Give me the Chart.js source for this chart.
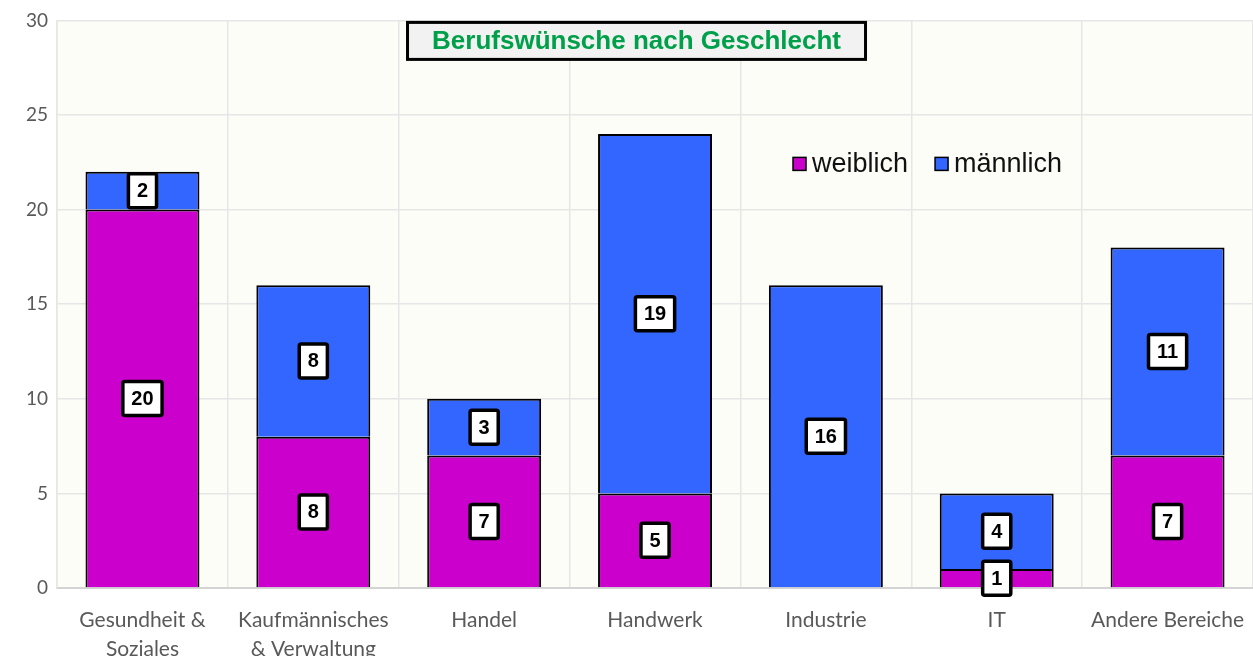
<!DOCTYPE html>
<html>
<head>
<meta charset="utf-8">
<script src="https://cdn.jsdelivr.net/npm/chart.js@4.4.0/dist/chart.umd.min.js"></script>
<style>
  html, body { margin:0; padding:0; background:#fff; overflow:hidden; }
  #wrap { width:1253px; height:682px; position:relative; }
</style>
</head>
<body>
<div id="wrap"><canvas id="chart"></canvas></div>
<script>
// Data
const categories = [["Gesundheit &","Soziales"],["Kaufmännisches","& Verwaltung"],"Handel","Handwerk","Industrie","IT","Andere Bereiche"];
const weiblich = [20, 8, 7, 5, 0, 1, 7];
const maennlich = [2, 8, 3, 19, 16, 4, 11];
const seriesNames = ["weiblich", "männlich"];
const yTicks = [0, 5, 10, 15, 20, 25, 30];
const titleText = "Berufswünsche nach Geschlecht";

const COLORS = ["#CC00CC", "#3366FF"];

// plot background + title box + legend + labels
const decor = {
  id: "decor",
  beforeDraw(chart) {
    const {ctx, chartArea:a} = chart;
    ctx.save();
    ctx.fillStyle = "#FDFDF8";
    ctx.fillRect(a.left, a.top, a.right-a.left, a.bottom-a.top);
    ctx.restore();
  },
  afterDraw(chart) {
    const {ctx, chartArea:a} = chart;
    const w = a.right - a.left;
    ctx.save();
    // Title box
    const cx = a.left + (636.5-57)/1196*w;
    const bw = 458, bh = 37;
    const bx = cx - bw/2, by = a.top + 2;
    ctx.fillStyle = "#F2F2F2";
    ctx.fillRect(bx, by, bw, bh);
    ctx.lineWidth = 3;
    ctx.strokeStyle = "#000";
    ctx.strokeRect(bx, by, bw, bh);
    ctx.fillStyle = "#00A04A";
    ctx.font = "bold 26px 'Liberation Sans', Arial, sans-serif";
    ctx.textAlign = "center";
    ctx.textBaseline = "middle";
    ctx.fillText(titleText, cx, by + bh/2 + 1);

    // Legend
    ctx.font = "27px 'Liberation Sans', Arial, sans-serif";
    ctx.textAlign = "left";
    let lx = a.left + (793-57)/1196*w;
    const ly = a.top + (162-19);
    seriesNames.forEach((name, i) => {
      ctx.fillStyle = COLORS[i];
      ctx.fillRect(lx, ly-6, 13, 13);
      ctx.lineWidth = 1.5;
      ctx.strokeStyle = "#000";
      ctx.strokeRect(lx, ly-6, 13, 13);
      ctx.fillStyle = "#111";
      ctx.fillText(name, lx + 19, ly + 1);
      lx += 19 + ctx.measureText(name).width + 27;
    });

    // Data labels
    ctx.font = "bold 20px 'Liberation Sans', Arial, sans-serif";
    ctx.textAlign = "center";
    ctx.textBaseline = "middle";
    chart.data.datasets.forEach((ds, di) => {
      const meta = chart.getDatasetMeta(di);
      meta.data.forEach((bar, j) => {
        const v = ds.data[j];
        if (!v) return;
        const x = bar.x, y = (bar.y + bar.base)/2;
        const t = String(v);
        const tw = ctx.measureText(t).width;
        const boxW = tw + 17, boxH = 34;
        ctx.fillStyle = "#fff";
        ctx.beginPath();
        ctx.roundRect(x - boxW/2, y - boxH/2, boxW, boxH, 2);
        ctx.fill();
        ctx.lineWidth = 3.5;
        ctx.strokeStyle = "#000";
        ctx.stroke();
        ctx.fillStyle = "#000";
        ctx.fillText(t, x, y + 1);
      });
    });
    ctx.restore();
  }
};

new Chart(document.getElementById("chart"), {
  type: "bar",
  data: {
    labels: categories,
    datasets: [
      { label: seriesNames[0], data: weiblich, backgroundColor: COLORS[0], borderColor: "#000", borderWidth: 2, borderSkipped: "bottom" },
      { label: seriesNames[1], data: maennlich, backgroundColor: COLORS[1], borderColor: "#000", borderWidth: 2, borderSkipped: "bottom" }
    ]
  },
  options: {
    responsive: true,
    maintainAspectRatio: false,
    animation: false,
    layout: { padding: { top: 9, right: 0, left: 17, bottom: 0 } },
    datasets: { bar: { categoryPercentage: 1.0, barPercentage: 0.667 } },
    plugins: { legend: { display: false }, title: { display: false }, tooltip: { enabled: false } },
    scales: {
      x: {
        stacked: true,
        afterFit(axis) { axis.paddingRight = 0; axis.paddingLeft = 0; },
        grid: { color: "#E6E6E6", lineWidth: 1.5, drawTicks: false },
        border: { color: "#D4D4D4", width: 2 },
        ticks: { color: "#595959", font: { family: "Lato, 'Open Sans', sans-serif", size: 21, lineHeight: 1.38 }, padding: 18, maxRotation: 0, autoSkip: false }
      },
      y: {
        stacked: true,
        min: 0, max: 30,
        afterBuildTicks(axis) { axis.ticks = yTicks.map(v => ({ value: v })); },
        grid: { color: "#E6E6E6", lineWidth: 1.5, drawTicks: false },
        border: { color: "#E6E6E6", width: 1.5 },
        ticks: { color: "#595959", font: { family: "Lato, 'Open Sans', sans-serif", size: 19 }, padding: 9 }
      }
    }
  },
  plugins: [decor]
});
</script>
</body>
</html>
